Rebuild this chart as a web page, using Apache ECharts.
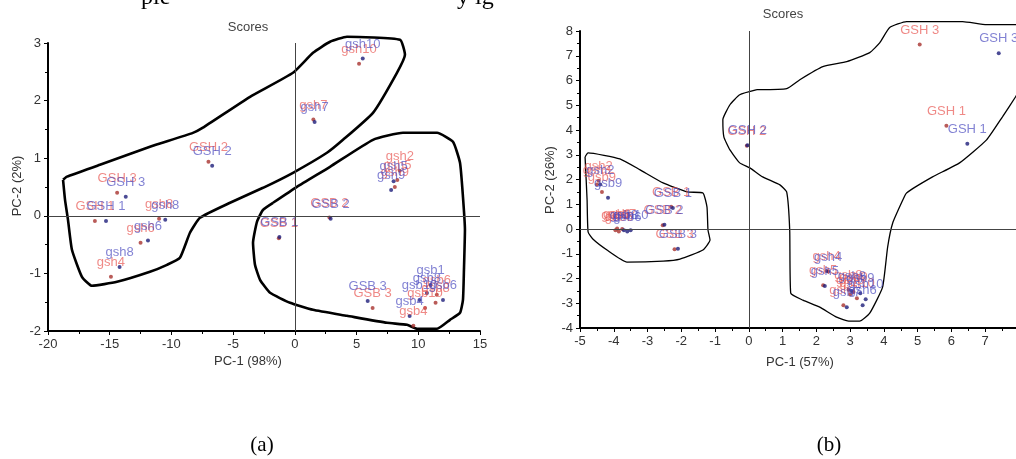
<!DOCTYPE html>
<html>
<head>
<meta charset="utf-8">
<script src="https://cdn.jsdelivr.net/npm/echarts@6/dist/echarts.min.js"></script>
<style>
html,body{margin:0;padding:0;background:#fff;}
#chart{width:1016px;height:459px;}
</style>
</head>
<body>
<div id="chart"></div>
<script>
// ---------- Data: chart (a) ----------
const aXTicks = { min: -20, max: 15, interval: 5 };
const aYTicks = { min: -2, max: 3, interval: 1 };
const aRedPts = [
  [-16.2, -0.09, 'GSH 1'], [-14.4, 0.40, 'GSH 3'], [-7.0, 0.94, 'GSH 2'],
  [-11.0, -0.05, 'gsh8'], [-12.5, -0.47, 'gsh6'], [-14.9, -1.06, 'gsh4'],
  [5.2, 2.64, 'gsh10'], [1.5, 1.67, 'gsh7'],
  [8.5, 0.78, 'gsh2'], [8.3, 0.62, 'gsh5'], [8.1, 0.50, 'gsh9'],
  [-1.3, -0.39, 'GSB 1'], [2.8, -0.03, 'GSB 2'], [6.3, -1.60, 'GSB 3'],
  [9.6, -1.91, 'gsb4'], [10.55, -1.60, 'gsb10'], [11.4, -1.51, 'gsb8'], [11.5, -1.37, 'gsb6']
];
const aBluePts = [
  [-15.3, -0.09, 'GSH 1'], [-13.7, 0.33, 'GSH 3'], [-6.7, 0.87, 'GSH 2'],
  [-10.5, -0.07, 'gsh8'], [-11.9, -0.43, 'gsh6'], [-14.2, -0.89, 'gsh8'],
  [5.5, 2.73, 'gsh10'], [1.6, 1.63, 'gsh7'],
  [8.0, 0.60, 'gsh5'], [7.8, 0.45, 'gsh9'],
  [-1.25, -0.37, 'GSB 1'], [2.9, -0.05, 'GSB 2'], [5.9, -1.48, 'GSB 3'],
  [9.3, -1.74, 'gsb4'], [10.7, -1.34, 'gsb8'], [12.0, -1.46, 'gsb6'], [10.1, -1.46, 'gsb10'], [11.0, -1.20, 'gsb1']
];
const aOutline1 = [
  [-18.78, 0.625], [-18.46, 0.68], [-15.79, 0.885], [-11.74, 1.198], [-8.26, 1.44], [-7.45, 1.53],
  [-3.63, 2.066], [-0.15, 2.483], [1.47, 2.830], [2.85, 3.021], [4.22, 3.108], [8.52, 3.056],
  [8.92, 2.795], [8.27, 2.483], [6.33, 1.788], [3.90, 1.319], [2.60, 1.094], [-0.15, 0.747],
  [-2.58, 0.486], [-5.25, 0.226], [-7.69, -0.035], [-8.50, -0.295], [-9.31, -0.729],
  [-10.36, -0.851], [-11.74, -0.972], [-14.41, -1.146], [-16.44, -1.215], [-17.25, -1.059],
  [-18.06, -0.590], [-18.38, -0.07], [-18.62, 0.278], [-18.78, 0.625]
];
const aOutline2 = [
  [-1.77, 0.226], [0.17, 0.503], [2.85, 0.851], [6.33, 1.319], [8.76, 1.441], [11.52, 1.441],
  [12.81, 1.285], [13.38, 0.920], [13.62, 0.330], [13.78, -0.243], [13.70, -0.938], [13.62, -1.458],
  [13.38, -1.684], [12.57, -1.806], [11.52, -1.962], [9.90, -1.962], [9.09, -1.892], [7.47, -1.858],
  [4.22, -1.736], [1.47, -1.632], [-0.39, -1.510], [-2.01, -1.337], [-2.82, -1.111], [-3.23, -0.851],
  [-3.39, -0.469], [-3.07, -0.104], [-2.58, 0.104], [-1.77, 0.226]
];

// ---------- Data: chart (b) ----------
const bXTicks = { min: -5, max: 8, interval: 1 };
const bYTicks = { min: -4, max: 8, interval: 1 };
const bRedPts = [
  [5.06, 7.45, 'GSH 3'], [5.85, 4.17, 'GSH 1'], [-0.06, 3.36, 'GSH 2'],
  [-4.45, 1.95, 'gsh2'], [-4.5, 1.8, 'gsh3'], [-4.35, 1.5, 'gsb9'],
  [-3.95, -0.05, 'gsb5'], [-3.85, -0.1, 'gsb6'], [-3.75, 0.0, 'gsb7'], [-3.9, 0.02, 'gsb8'],
  [-2.3, 0.9, 'GSB 1'], [-2.55, 0.15, 'GSB 2'], [-2.2, -0.82, 'GSB 3'],
  [2.3, -1.7, 'gsh4'], [2.2, -2.27, 'gsh5'],
  [2.95, -2.45, 'gsh8'], [3.1, -2.55, 'gsh9'], [3.0, -2.65, 'gsh6'], [3.2, -2.8, 'gsh10'], [2.8, -3.08, 'gsh7']
];
const bBluePts = [
  [7.4, 7.1, 'GSH 3'], [6.47, 3.44, 'GSH 1'], [-0.04, 3.38, 'GSH 2'],
  [-4.4, 1.8, 'gsh2'], [-4.17, 1.26, 'gsb9'],
  [-3.7, -0.05, 'gsb8'], [-3.6, -0.1, 'gsb6'], [-3.5, -0.05, 'gsb10'],
  [-2.25, 0.85, 'GSB 1'], [-2.5, 0.17, 'GSB 2'], [-2.1, -0.8, 'GSB 3'],
  [2.35, -1.72, 'gsh4'], [2.25, -2.3, 'gsh5'],
  [3.05, -2.5, 'gsh8'], [3.3, -2.6, 'gsh9'], [3.46, -2.84, 'gsh10'], [3.37, -3.08, 'gsh6'], [2.9, -3.16, 'gsh7']
];
const bOutline1 = [
  [-4.85, 2.915], [-4.76, 3.077], [-3.82, 2.834], [-3.22, 2.389], [-2.54, 1.862], [-1.83, 1.498],
  [-1.36, 1.457], [-1.24, 0.891], [-1.21, -0.040], [-1.15, -0.445], [-1.36, -0.850], [-2.04, -1.215],
  [-2.54, -1.296], [-3.61, -1.336], [-4.20, -0.850], [-4.62, -0.405], [-4.76, -0.121], [-4.79, 1.174],
  [-4.85, 2.915]
];
const bOutline2 = [
  [0.24, 5.628], [-0.27, 5.425], [-0.56, 5.020], [-0.77, 4.413], [-0.74, 3.725], [-0.56, 3.198],
  [-0.27, 2.672], [0.03, 2.470], [0.41, 2.105], [0.92, 1.781], [1.12, 1.498], [1.21, -0.040],
  [1.24, -2.591], [1.60, -2.874], [2.10, -3.158], [2.60, -3.563], [2.99, -3.725], [3.28, -3.725],
  [3.58, -3.401], [3.96, -2.348], [4.11, -0.729], [4.26, 0.243], [4.56, 1.174], [4.67, 1.457],
  [5.44, 2.105], [6.24, 2.672], [7.04, 3.603], [7.51, 4.534], [7.90, 5.344], [8.61, 6.842],
  [8.61, 8.259], [7.04, 8.259], [6.33, 8.381], [4.67, 8.381], [4.17, 8.138], [3.88, 7.530],
  [3.58, 7.126], [2.90, 6.761], [2.19, 6.559], [1.51, 6.032], [1.12, 5.668], [0.33, 5.628], [0.24, 5.628]
];

// ---------- Text ----------
const titleText = 'Scores';
const aXName = 'PC-1 (98%)';
const aYName = 'PC-2 (2%)';
const bXName = 'PC-1 (57%)';
const bYName = 'PC-2 (26%)';
const captions = ['(a)', '(b)'];
const topFragments = ['ple', 'y ig'];

// ---------- Build ----------
const SANS = 'Liberation Sans, Arial, sans-serif';
const SERIF = 'Liberation Serif, Times New Roman, serif';
const RED_LABEL = 'rgba(232,82,78,0.85)';
const BLUE_LABEL = 'rgba(72,72,190,0.85)';
const RED_DOT = '#a8322e';
const BLUE_DOT = '#1e1e7a';

function scatterSeries(pts, idx, labelColor, dotColor, extra) {
  return Object.assign({
    type: 'scatter', xAxisIndex: idx, yAxisIndex: idx,
    symbolSize: 4, itemStyle: { color: dotColor },
    data: pts, encode: { x: 0, y: 1 },
    label: {
      show: true, position: 'top', distance: 6,
      formatter: p => p.value[2],
      color: labelColor, fontFamily: SANS, fontSize: 13
    },
    z: 3
  }, extra || {});
}
function outlineSeries(pts, idx, width) {
  return {
    type: 'line', xAxisIndex: idx, yAxisIndex: idx, data: pts,
    symbol: 'none', clip: false, silent: true, smooth: 0.15,
    lineStyle: { color: '#000', width: width }, z: 2
  };
}
function zeroLines() {
  return {
    symbol: 'none', silent: true, label: { show: false },
    lineStyle: { color: '#444', width: 1, type: 'solid' },
    data: [{ xAxis: 0 }, { yAxis: 0 }]
  };
}
function axis(idx, t) {
  return {
    type: 'value', gridIndex: idx, min: t.min, max: t.max, interval: t.interval,
    axisLine: { show: true, onZero: false, lineStyle: { color: '#000', width: 2 } },
    axisTick: { show: true, length: 4, lineStyle: { color: '#000' } },
    minorTick: { show: true, splitNumber: 2, length: 3, lineStyle: { color: '#000' } },
    splitLine: { show: false },
    axisLabel: { color: '#333', fontFamily: SANS, fontSize: 13, margin: 7 }
  };
}
function txt(x, y, s, opts) {
  return {
    type: 'text', x: x, y: y, silent: true,
    rotation: (opts && opts.rot) || 0,
    style: Object.assign({
      text: s, fill: '#333', font: '13px ' + SANS, textAlign: 'center', textVerticalAlign: 'middle'
    }, (opts && opts.style) || {})
  };
}

const chart = echarts.init(document.getElementById('chart'), null, { renderer: 'canvas' });
chart.setOption({
  animation: false,
  backgroundColor: '#fff',
  grid: [
    { left: 48, top: 43, width: 432, height: 288, containLabel: false, outerBoundsMode: 'none' },
    { left: 580, top: 31, width: 439, height: 297, containLabel: false, outerBoundsMode: 'none' }
  ],
  xAxis: [axis(0, aXTicks), axis(1, bXTicks)],
  yAxis: [axis(0, aYTicks), axis(1, bYTicks)],
  series: [
    outlineSeries(aOutline1, 0, 2.6),
    outlineSeries(aOutline2, 0, 2.6),
    scatterSeries(aRedPts, 0, RED_LABEL, RED_DOT, { markLine: zeroLines() }),
    scatterSeries(aBluePts, 0, BLUE_LABEL, BLUE_DOT),
    outlineSeries(bOutline1, 1, 1.3),
    outlineSeries(bOutline2, 1, 1.3),
    scatterSeries(bRedPts, 1, RED_LABEL, RED_DOT, { markLine: zeroLines() }),
    scatterSeries(bBluePts, 1, BLUE_LABEL, BLUE_DOT)
  ],
  graphic: [
    txt(248, 27, titleText, { style: { fill: '#444' } }),
    txt(783, 14, titleText, { style: { fill: '#444' } }),
    txt(248, 361, aXName),
    txt(800, 362, bXName),
    txt(17, 186, aYName, { rot: Math.PI / 2 }),
    txt(550, 180, bYName, { rot: Math.PI / 2 }),
    txt(262, 445, captions[0], { style: { fill: '#000', font: '21px ' + SERIF } }),
    txt(829, 445, captions[1], { style: { fill: '#000', font: '21px ' + SERIF } }),
    txt(141, 10, topFragments[0], { style: { fill: '#000', font: '24px ' + SERIF, textAlign: 'left', textVerticalAlign: 'bottom' } }),
    txt(457, 10, topFragments[1], { style: { fill: '#000', font: '24px ' + SERIF, textAlign: 'left', textVerticalAlign: 'bottom' } })
  ]
});
</script>
</body>
</html>
